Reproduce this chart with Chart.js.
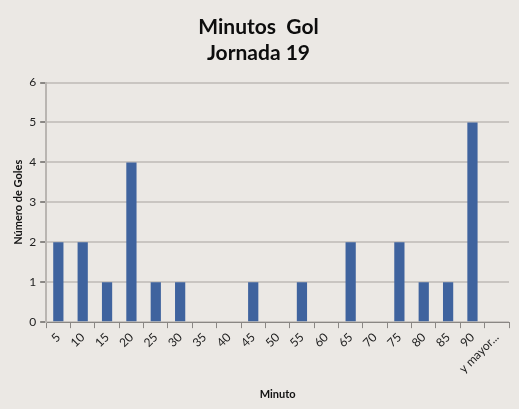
<!DOCTYPE html>
<html>
<head>
<meta charset="utf-8">
<script src="https://cdn.jsdelivr.net/npm/chart.js@4"></script>
<style>
  html, body { margin: 0; padding: 0; background: #ebe8e4; }
  #chart { display: block; }
</style>
</head>
<body>
<canvas id="chart" width="519" height="409"></canvas>
<script>
// data
const minutos = ["5", "10", "15", "20", "25", "30", "35", "40", "45", "50",
  "55", "60", "65", "70", "75", "80", "85", "90", "y mayor..."];
const goles = [2, 2, 1, 4, 1, 1, 0, 0, 1, 0, 1, 0, 2, 0, 2, 1, 1, 5, 0];
const tituloLineas = ["Minutos  Gol", "Jornada 19"];

const fuente = "Lato, 'DejaVu Sans', sans-serif";

const ctx = document.getElementById("chart").getContext("2d");
new Chart(ctx, {
  type: "bar",
  data: {
    labels: minutos,
    datasets: [
      {
        data: goles,
        backgroundColor: "#3f639e",
        barPercentage: 0.42,
        categoryPercentage: 1,
      },
    ],
  },
  options: {
    responsive: false,
    animation: false,
    layout: { padding: { left: 8, right: 10, top: 10, bottom: 4 } },
    plugins: {
      legend: { display: false },
      tooltip: { enabled: false },
      title: {
        display: true,
        text: tituloLineas,
        color: "#0d0d0d",
        font: { family: fuente, size: 21, weight: "bold", lineHeight: 1.25 },
        padding: { top: 4, bottom: 16 },
      },
    },
    scales: {
      x: {
        offset: true,
        grid: {
          display: true,
          offset: true,
          drawOnChartArea: false,
          tickLength: 6,
          tickColor: "#8a8784",
        },
        border: { color: "#8a8784", width: 1 },
        ticks: {
          autoSkip: false,
          maxRotation: 45,
          minRotation: 45,
          color: "#222",
          font: { family: fuente, size: 12 },
          padding: 2,
        },
        title: {
          display: true,
          text: "Minuto",
          color: "#111",
          font: { family: fuente, size: 11, weight: "bold" },
          padding: { top: 10 },
        },
      },
      y: {
        min: 0,
        max: 6,
        ticks: {
          stepSize: 1,
          color: "#222",
          font: { family: fuente, size: 12 },
          padding: 4,
        },
        grid: {
          color: "#c9c5c1",
          lineWidth: 2,
          tickLength: 6,
          tickColor: "#8a8784",
        },
        border: { color: "#b9b5b1", width: 2 },
        title: {
          display: true,
          text: "Número de Goles",
          color: "#111",
          font: { family: fuente, size: 11, weight: "bold" },
          padding: { bottom: 0 },
        },
      },
    },
  },
});
</script>
</body>
</html>
